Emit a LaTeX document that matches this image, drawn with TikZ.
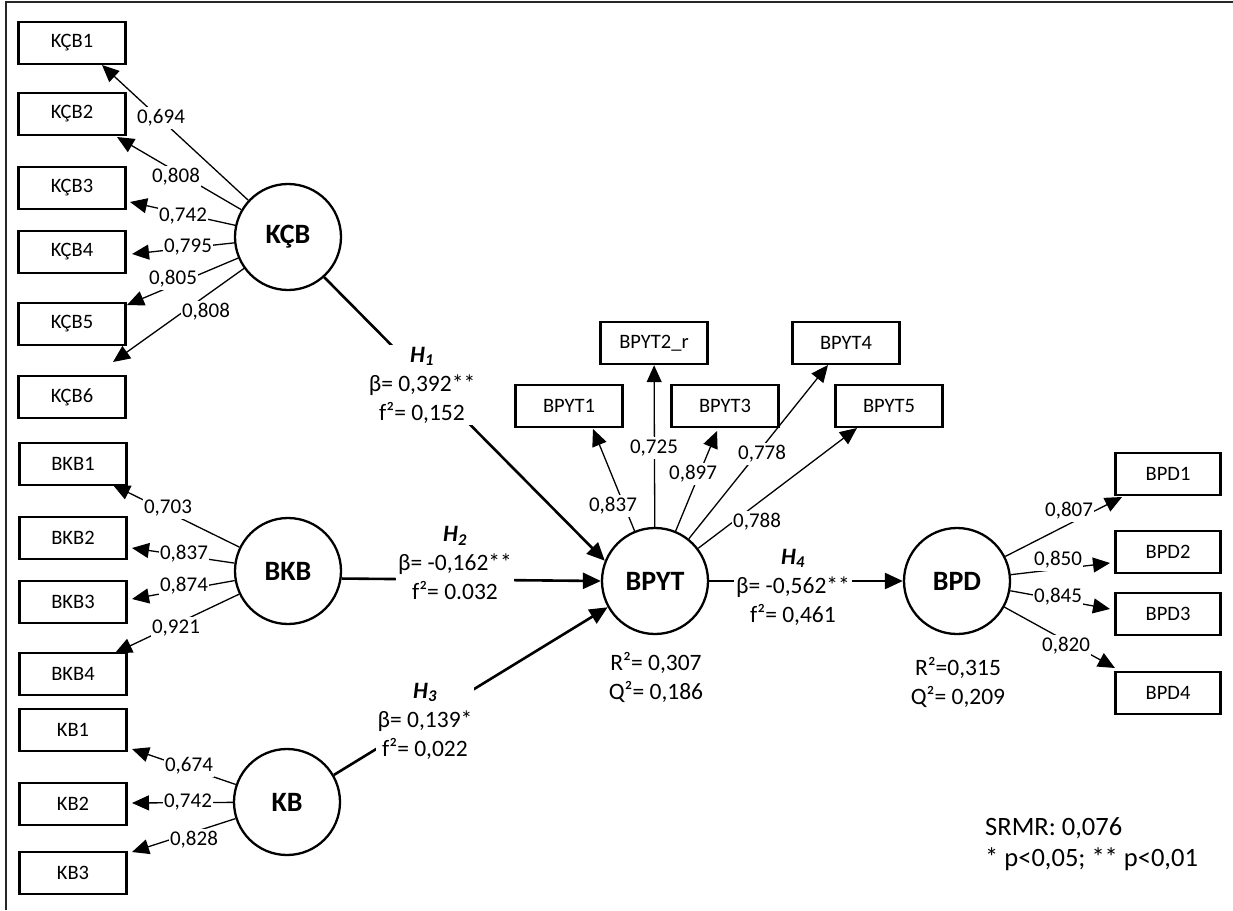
\documentclass[tikz,border=0pt]{standalone}
\usepackage{fontspec}
\setmainfont{Carlito}
\usetikzlibrary{arrows.meta}
\begin{document}
\begin{tikzpicture}[x=1pt,y=-1pt,
  box/.style={draw, line width=2.4pt, minimum width=107pt, minimum height=42pt, inner sep=0pt, font=\fontsize{20.5}{24}\selectfont},
  lat/.style={circle, draw, line width=2.3pt, minimum size=106pt, inner sep=0pt, font=\fontsize{28}{32}\selectfont\bfseries},
  load/.style={line width=1.3pt, -{Triangle[length=17pt,width=15pt]}},
  struct/.style={line width=2.6pt, -{Triangle[length=18pt,width=16pt]}},
  lbl/.style={fill=white, inner xsep=1.5pt, inner ysep=2.5pt, font=\fontsize{21}{24}\selectfont},
  hyp/.style={fill=white, align=center, inner sep=2pt, font=\fontsize{23.5}{29}\selectfont},
  stat/.style={align=center, inner sep=0pt, font=\fontsize{23.5}{29}\selectfont},
  note/.style={align=left, inner sep=0pt, font=\fontsize{26.5}{31}\selectfont}
]
\useasboundingbox (0,0) rectangle (1233,910);
\draw[line width=1.3pt, black!85] (6,910) -- (6,2) -- (1233,2);

% indicator boxes
\node[box] (k1) at (72,43) {KÇB1};
\node[box] (k2) at (72,114) {KÇB2};
\node[box] (k3) at (72,188) {KÇB3};
\node[box] (k4) at (72,252) {KÇB4};
\node[box] (k5) at (72,324) {KÇB5};
\node[box] (k6) at (72,397) {KÇB6};
\node[box] (b1) at (73,464) {BKB1};
\node[box] (b2) at (73,538) {BKB2};
\node[box] (b3) at (73,602) {BKB3};
\node[box] (b4) at (73,674) {BKB4};
\node[box] (kb1) at (73,730) {KB1};
\node[box] (kb2) at (73,804) {KB2};
\node[box] (kb3) at (73,873) {KB3};
\node[box] (p1) at (569,406) {BPYT1};
\node[box] (p2) at (654,343) {BPYT2\_r};
\node[box] (p3) at (725,406) {BPYT3};
\node[box] (p4) at (846,343) {BPYT4};
\node[box] (p5) at (889,406) {BPYT5};
\node[box, minimum width=105pt] (d1) at (1168,474) {BPD1};
\node[box, minimum width=105pt] (d2) at (1168,552) {BPD2};
\node[box, minimum width=105pt] (d3) at (1168,614) {BPD3};
\node[box, minimum width=105pt] (d4) at (1168,693) {BPD4};

% latent variables
\node[lat] (KCB) at (288,237) {KÇB};
\node[lat] (BKB) at (288,571) {BKB};
\node[lat] (KB) at (287,802) {KB};
\node[lat] (BPYT) at (655,581) {BPYT};
\node[lat] (BPD) at (957,581) {BPD};

% arrow tips at the indicator boxes
\coordinate (k1t) at (102,65);
\coordinate (k2t) at (117,137);
\coordinate (k3t) at (130,202);
\coordinate (k4t) at (132,254);
\coordinate (k5t) at (127,305);
\coordinate (k6t) at (113,362);
\coordinate (b1t) at (113,485);
\coordinate (b2t) at (132,548);
\coordinate (b3t) at (132,599);
\coordinate (b4t) at (115,653);
\coordinate (kb1t) at (132,749);
\coordinate (kb2t) at (132,803);
\coordinate (kb3t) at (132,852);
\coordinate (p1t) at (593,429);
\coordinate (p3t) at (717,431);
\coordinate (p4t) at (828,365);
\coordinate (p5t) at (857,428);
\coordinate (d1t) at (1122,497);
\coordinate (d2t) at (1110,563);
\coordinate (d3t) at (1110,609);
\coordinate (d4t) at (1115,668);

% loadings
\draw[load] (KCB) -- (k1t);
\draw[load] (KCB) -- (k2t);
\draw[load] (KCB) -- (k3t);
\draw[load] (KCB) -- (k4t);
\draw[load] (KCB) -- (k5t);
\draw[load] (KCB) -- (k6t);
\draw[load] (BKB) -- (b1t);
\draw[load] (BKB) -- (b2t);
\draw[load] (BKB) -- (b3t);
\draw[load] (BKB) -- (b4t);
\draw[load] (KB) -- (kb1t);
\draw[load] (KB) -- (kb2t);
\draw[load] (KB) -- (kb3t);
\draw[load] (BPYT) -- (p1t);
\draw[load] (BPYT) -- (p2);
\draw[load] (BPYT) -- (p3t);
\draw[load] (BPYT) -- (p4t);
\draw[load] (BPYT) -- (p5t);
\draw[load] (BPD) -- (d1t);
\draw[load] (BPD) -- (d2t);
\draw[load] (BPD) -- (d3t);
\draw[load] (BPD) -- (d4t);

% structural paths
\draw[struct] (KCB.-48) -- (BPYT.158);
\draw[struct] (BKB.-8) -- (BPYT.west);
\draw[struct] (KB.30) -- (BPYT.209);
\draw[struct] (BPYT.east) -- (BPD.west);

% loading labels
\node[lbl] (lk1) at (161,118) {0,694};
\node[lbl] (lk2) at (176,177) {0,808};
\node[lbl] (lk3) at (183,216) {0,742};
\node[lbl] (lk4) at (188,247) {0,795};
\node[lbl] (lk5) at (173,279) {0,805};
\node[lbl] (lk6) at (206,312) {0,808};
\node[lbl] (lb1) at (168,508) {0,703};
\node[lbl] (lb2) at (184,554) {0,837};
\node[lbl] (lb3) at (184,586) {0,874};
\node[lbl] (lb4) at (176,628) {0,921};
\node[lbl] (lkb1) at (189,766) {0,674};
\node[lbl] (lkb2) at (188,802) {0,742};
\node[lbl] (lkb3) at (194,840) {0,828};
\node[lbl] (lp1) at (613,506) {0,837};
\node[lbl] (lp2) at (654,448) {0,725};
\node[lbl] (lp3) at (693,474) {0,897};
\node[lbl] (lp4) at (762,454) {0,778};
\node[lbl] (lp5) at (757,522) {0,788};
\node[lbl] (ld1) at (1069,511) {0,807};
\node[lbl] (ld2) at (1058,560) {0,850};
\node[lbl] (ld3) at (1058,597) {0,845};
\node[lbl] (ld4) at (1066,646) {0,820};

% hypothesis labels
\node[hyp] (h1) at (422,385) {{\bfseries\itshape H\textsubscript{1}}\\β= 0,392**\\f²= 0,152};
\node[hyp] (h2) at (455,563) {{\bfseries\itshape H\textsubscript{2}}\\β= -0,162**\\f²= 0.032};
\node[hyp] (h3) at (425,721) {{\bfseries\itshape H\textsubscript{3}}\\β= 0,139*\\f²= 0,022};
\node[hyp] (h4) at (793,587) {{\bfseries\itshape H\textsubscript{4}}\\β= -0,562**\\f²= 0,461};

% R2 / Q2
\node[stat] (rq1) at (656,677) {R²= 0,307\\Q²= 0,186};
\node[stat] (rq2) at (958,682) {R²=0,315\\Q²= 0,209};

% fit note
\node[note, anchor=west] (srmr) at (985,844.5) {SRMR: 0,076\\* p<0,05; ** p<0,01};
\end{tikzpicture}
\end{document}
